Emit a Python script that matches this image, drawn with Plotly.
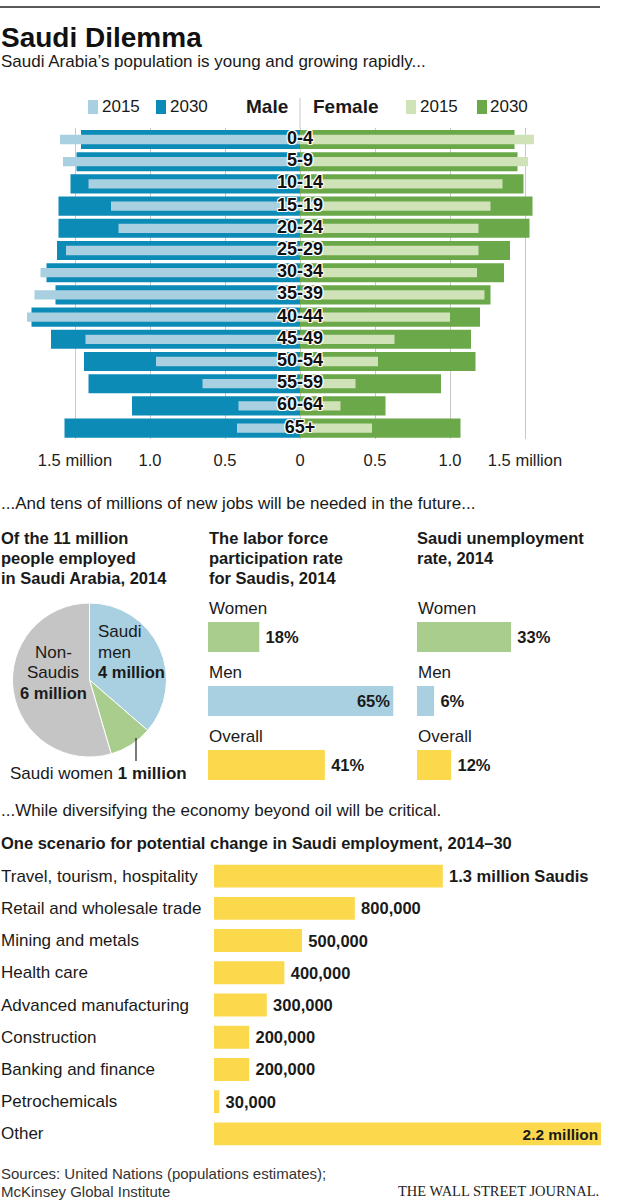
import plotly.graph_objects as go

# canvas size in px
W, H = 621, 1200
FONT = "Liberation Sans, Arial, sans-serif"
INK = "#1a1a1a"

# population pyramid (millions)
ages = ["0-4", "5-9", "10-14", "15-19", "20-24", "25-29", "30-34",
        "35-39", "40-44", "45-49", "50-54", "55-59", "60-64", "65+"]
male_2015 = [1.60, 1.58, 1.41, 1.26, 1.21, 1.56, 1.73, 1.77, 1.82, 1.43, 0.96, 0.65, 0.41, 0.42]
male_2030 = [1.46, 1.49, 1.53, 1.61, 1.61, 1.62, 1.69, 1.63, 1.79, 1.66, 1.44, 1.41, 1.12, 1.57]
female_2015 = [1.56, 1.52, 1.35, 1.27, 1.19, 1.19, 1.18, 1.23, 1.00, 0.63, 0.52, 0.37, 0.27, 0.48]
female_2030 = [1.43, 1.45, 1.49, 1.55, 1.53, 1.40, 1.36, 1.27, 1.20, 1.14, 1.17, 0.94, 0.57, 1.07]
pyr_ticks = [-1.5, -1.0, -0.5, 0, 0.5, 1.0, 1.5]
pyr_ticktext = ["1.5 million", "1.0", "0.5", "0", "0.5", "1.0", "1.5 million"]

# employment pie (millions)
pie_labels = ["Saudi men", "Saudi women", "Non-Saudis"]
pie_values = [4, 1, 6]

# labor force participation / unemployment (%)
groups = ["Women", "Men", "Overall"]
participation = [18, 65, 41]
unemployment = [33, 6, 12]

# change in Saudi employment 2014-30 (millions)
sectors = ["Travel, tourism, hospitality", "Retail and wholesale trade", "Mining and metals",
           "Health care", "Advanced manufacturing", "Construction", "Banking and finance",
           "Petrochemicals", "Other"]
jobs = [1.3, 0.8, 0.5, 0.4, 0.3, 0.2, 0.2, 0.03, 2.2]
jobs_text = ["1.3 million Saudis", "800,000", "500,000", "400,000", "300,000",
             "200,000", "200,000", "30,000", "2.2 million"]

C_M15, C_M30 = "#a8d0e0", "#0c8bb7"
C_F15, C_F30 = "#d0e2b8", "#6aa84a"
C_WOMEN, C_MEN, C_ALL = "#a9cd8c", "#a8d0e0", "#fcd94c"
C_GRAY = "#c5c5c5"
PAD = "\u2009"  # small gap between a bar end and its outside label


def px(x):
    return x / W


def py(y):
    return 1 - y / H


fig = go.Figure()

# pyramid
fig.add_trace(go.Bar(y=ages, x=[-v for v in male_2030], orientation="h", width=0.86,
                     marker=dict(color=C_M30, line_width=0), xaxis="x", yaxis="y"))
fig.add_trace(go.Bar(y=ages, x=female_2030, orientation="h", width=0.86,
                     marker=dict(color=C_F30, line_width=0), xaxis="x", yaxis="y"))
fig.add_trace(go.Bar(y=ages, x=[-v for v in male_2015], orientation="h", width=0.42,
                     marker=dict(color=C_M15, line_width=0), xaxis="x", yaxis="y"))
fig.add_trace(go.Bar(y=ages, x=female_2015, orientation="h", width=0.42,
                     marker=dict(color=C_F15, line_width=0), xaxis="x", yaxis="y"))
halo = ", ".join(f"{a}px {b}px 0 #fff" for a in (-1, 0, 1) for b in (-1, 0, 1) if a or b)
fig.add_trace(go.Scatter(x=[0] * len(ages), y=ages, mode="text", text=ages,
                         textfont=dict(family=FONT, size=18, color="#111", weight="bold", shadow=halo),
                         xaxis="x", yaxis="y", hoverinfo="skip"))

# pie
fig.add_trace(go.Pie(labels=pie_labels, values=pie_values, sort=False, direction="clockwise",
                     rotation=0, textinfo="none",
                     marker=dict(colors=[C_MEN, C_WOMEN, C_GRAY], line=dict(color="white", width=1)),
                     domain=dict(x=[px(12), px(167)], y=[py(757), py(603)])))

# participation + unemployment
bar_cols = [C_WOMEN, C_MEN, C_ALL]
for vals, xa, ya in [(participation, "x2", "y2"), (unemployment, "x3", "y3")]:
    pos = ["inside" if v > 50 else "outside" for v in vals]
    labels = [f"{v}%" if p == "inside" else f"{PAD}{v}%" for v, p in zip(vals, pos)]
    fig.add_trace(go.Bar(y=groups, x=vals, orientation="h", width=0.47,
                         marker=dict(color=bar_cols, line_width=0),
                         text=labels, textposition=pos, insidetextanchor="end",
                         textfont=dict(family=FONT, size=16.5, color=INK, weight="bold"),
                         cliponaxis=False, xaxis=xa, yaxis=ya))

# sectors
sec_pos = ["outside"] * 8 + ["inside"]
fig.add_trace(go.Bar(y=sectors, x=jobs, orientation="h", width=0.71,
                     marker=dict(color=C_ALL, line_width=0),
                     text=[t if p == "inside" else PAD + t for t, p in zip(jobs_text, sec_pos)],
                     textposition=sec_pos, insidetextanchor="end",
                     textfont=dict(family=FONT, size=16.5, color=INK, weight="bold"),
                     cliponaxis=False, xaxis="x4", yaxis="y4"))

hidden = dict(showgrid=False, zeroline=False, showticklabels=False, showline=False, fixedrange=True)
fig.update_layout(
    width=W, height=H, margin=dict(l=0, r=0, t=0, b=0),
    paper_bgcolor="white", plot_bgcolor="white", showlegend=False, barmode="overlay",
    font=dict(family=FONT, color=INK),
    xaxis=dict(domain=[0, 1], range=[-2.0, 2.14], tickvals=pyr_ticks, ticktext=pyr_ticktext,
               showgrid=True, gridcolor="#c8c8c8", gridwidth=1, zeroline=False, showline=False,
               ticks="", ticklabelstandoff=9, tickfont=dict(size=16.5, color="#222"), anchor="y"),
    yaxis=dict(domain=[py(439.2), py(128.4)], categoryorder="array", categoryarray=ages,
               range=[13.5, -0.5], anchor="x", **hidden),
    xaxis2=dict(domain=[px(208), px(208 + 2.85 * 70)], range=[0, 70], anchor="y2", **hidden),
    yaxis2=dict(domain=[py(797), py(605)], categoryorder="array", categoryarray=groups,
                range=[2.5, -0.5], anchor="x2", **hidden),
    xaxis3=dict(domain=[px(417), px(417 + 2.85 * 70)], range=[0, 70], anchor="y3", **hidden),
    yaxis3=dict(domain=[py(797), py(605)], categoryorder="array", categoryarray=groups,
                range=[2.5, -0.5], anchor="x3", **hidden),
    xaxis4=dict(domain=[px(214), px(214 + 176 * 2.2)], range=[0, 2.2], anchor="y4", **hidden),
    yaxis4=dict(domain=[py(1150), py(860)], categoryorder="array", categoryarray=sectors,
                range=[8.5, -0.5], anchor="x4", **hidden),
)


def note(text, x, y, size=17, bold=False, anchor="left", color=INK, family=FONT):
    fig.add_annotation(text=text, x=px(x), y=py(y), xref="paper", yref="paper",
                       xanchor=anchor, yanchor="middle", showarrow=False, borderpad=0,
                       font=dict(family=family, size=size, color=color,
                                 weight="bold" if bold else "normal"))


# headline
fig.add_shape(type="line", xref="paper", yref="paper", x0=0, x1=px(600), y0=py(7), y1=py(7),
              line=dict(color="#222", width=1.5))
note("Saudi Dilemma", 0, 38, size=28, bold=True, color="#111")
note("Saudi Arabia\u2019s population is young and growing rapidly...", 0, 62)

# pyramid legend
fig.add_shape(type="line", xref="x", yref="paper", x0=0, x1=0, y0=py(98), y1=py(128.4),
              line=dict(color="#c8c8c8", width=1))
for x0, col in [(88, C_M15), (156, C_M30), (406, C_F15), (477, C_F30)]:
    fig.add_shape(type="rect", xref="paper", yref="paper", x0=px(x0), x1=px(x0 + 10),
                  y0=py(114), y1=py(100), fillcolor=col, line_width=0)
note("2015", 101, 107)
note("2030", 169, 107)
note("2015", 419, 107)
note("2030", 489, 107)
note("Male", 289, 107, size=19, bold=True, anchor="right")
note("Female", 312, 107, size=19, bold=True)

# middle section
note("...And tens of millions of new jobs will be needed in the future...", 0, 503)
for i, line in enumerate(["Of the 11 million", "people employed", "in Saudi Arabia, 2014"]):
    note(line, 0, 538 + 20 * i, size=16.5, bold=True)
for i, line in enumerate(["The labor force", "participation rate", "for Saudis, 2014"]):
    note(line, 208, 538 + 20 * i, size=16.5, bold=True)
for i, line in enumerate(["Saudi unemployment", "rate, 2014"]):
    note(line, 416, 538 + 20 * i, size=16.5, bold=True)

for xa, ya in [("x2", "y2"), ("x3", "y3")]:
    for i, g in enumerate(groups):
        fig.add_annotation(text=g, x=0, y=i, xref=xa, yref=ya, xanchor="left", yanchor="middle",
                           yshift=29, showarrow=False, borderpad=0, font=dict(size=17, color=INK))

# pie labels
note("Saudi", 97, 632)
note("men", 97, 652)
note("4 million", 97, 672, size=16.5, bold=True)
note("Non-", 53, 652, anchor="center")
note("Saudis", 53, 672, anchor="center")
note("6 million", 53, 693, size=16.5, bold=True, anchor="center")
note("Saudi women <b>1 million</b>", 9, 773)
fig.add_shape(type="line", xref="paper", yref="paper", x0=px(136), x1=px(136), y0=py(738), y1=py(761),
              line=dict(color="#222", width=1.2))

# bottom section
note("...While diversifying the economy beyond oil will be critical.", 0, 810)
note("One scenario for potential change in Saudi employment, 2014\u201330", 0, 843, size=16.5, bold=True)
for s in sectors:
    fig.add_annotation(text=s, x=0, y=s, xref="paper", yref="y4", xanchor="left", yanchor="middle",
                       showarrow=False, borderpad=0, font=dict(size=17, color=INK))

note("Sources: United Nations (populations estimates);", 0, 1173, size=15, color="#333")
note("McKinsey Global Institute", 0, 1191, size=15, color="#333")
note("THE WALL STREET JOURNAL.", 600, 1191, size=14.5, anchor="right", color="#222",
     family="Liberation Serif, Times New Roman, serif")

# page body has a default 8px margin; drop it so the figure sits at the top-left corner
fig.write_html("out.html", config={"displayModeBar": False},
               post_script="document.body.style.margin='0';")
